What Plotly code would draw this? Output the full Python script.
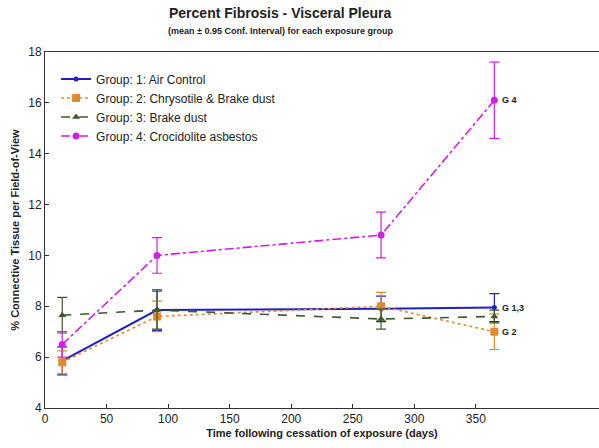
import plotly.graph_objects as go

days = [14, 91, 273, 365]
g1 = [5.85, 7.85, 7.9, 7.95]
g1_err = [0.55, 0.8, 0.5, 0.55]
g2 = [5.8, 7.6, 8.0, 7.0]
g2_err = [0.45, 0.6, 0.55, 0.7]
g3 = [7.65, 7.85, 7.5, 7.6]
g3_err = [0.7, 0.75, 0.4, 0.25]
g4 = [6.5, 10.0, 10.8, 16.1]
g4_err = [0.5, 0.7, 0.9, 1.5]

names = ["Group: 1: Air Control", "Group: 2: Chrysotile & Brake dust",
         "Group: 3: Brake dust", "Group: 4: Crocidolite asbestos"]
end_labels = ["G 1,3", "G 2", "", "G 4"]

series = [
    (g1, g1_err, "#2020c0", "solid", "circle", 5),
    (g2, g2_err, "#e08a30", "dot", "square", 8),
    (g3, g3_err, "#3a5a2a", "dash", "triangle-up", 7),
    (g4, g4_err, "#d020e0", "dashdot", "circle", 7),
]

fig = go.Figure()
for (vals, errs, col, dash, sym, sz), nm in zip(series, names):
    fig.add_trace(go.Scatter(
        x=days, y=vals, name=nm, mode="lines+markers",
        line=dict(color=col, width=2 if dash == "solid" else 1.6, dash=dash),
        marker=dict(color=col, symbol=sym, size=sz),
        error_y=dict(type="data", array=errs, color=col, thickness=1.2, width=5),
    ))

for vals, lab in zip([g1, g2, g3, g4], end_labels):
    if lab:
        fig.add_annotation(x=days[-1], y=vals[-1], text="<b>" + lab + "</b>",
                           showarrow=False, xanchor="left", xshift=6,
                           font=dict(size=9, color="#222"))

fig.add_annotation(text="<b>Percent Fibrosis - Visceral Pleura</b>", xref="paper", yref="paper",
                   x=0.425, y=1 + (52 - 13) / 356, showarrow=False, yanchor="middle",
                   font=dict(size=14, color="#222"))
fig.add_annotation(text="<b>(mean ± 0.95 Conf. Interval) for each exposure group</b>",
                   xref="paper", yref="paper", x=0.425, y=1 + (52 - 31) / 356,
                   showarrow=False, yanchor="middle", font=dict(size=9, color="#222"))

fig.update_layout(
    width=599, height=448,
    margin=dict(l=45, r=0, t=52, b=40),
    paper_bgcolor="white", plot_bgcolor="white",
    font=dict(family="Liberation Sans, Arial", color="#222"),
    xaxis=dict(range=[0, 450], tickvals=[0, 50, 100, 150, 200, 250, 300, 350],
               showgrid=False, zeroline=False, showline=True, linecolor="#333", mirror=True,
               ticks="inside", ticklen=4, tickcolor="#333", tickfont=dict(size=12),
               title=dict(text="<b>Time following cessation of exposure (days)</b>",
                          font=dict(size=11), standoff=3)),
    yaxis=dict(range=[4, 18], dtick=2, showgrid=False, zeroline=False, showline=True,
               linecolor="#333", mirror=True, ticks="inside", ticklen=4, tickcolor="#333",
               tickfont=dict(size=12),
               title=dict(text="<b>% Connective Tissue per Field-of-View</b>",
                          font=dict(size=11), standoff=6)),
    legend=dict(x=0.02, y=0.965, xanchor="left", yanchor="top", bgcolor="rgba(0,0,0,0)",
                font=dict(size=12), itemwidth=30, tracegroupgap=0),
    showlegend=True,
)

fig.write_html("out.html")
